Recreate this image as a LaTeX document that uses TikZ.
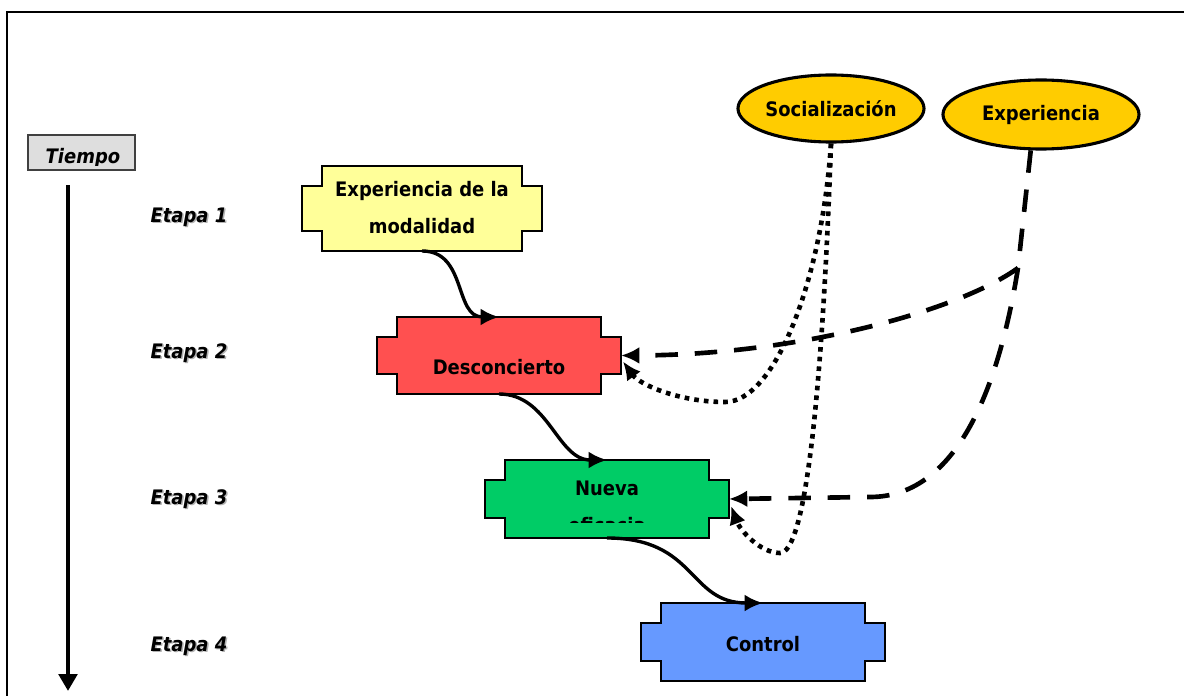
\documentclass[tikz,border=0pt]{standalone}
\usepackage{fontspec}
\setmainfont{DejaVu Sans}[FakeStretch=0.9]
\usetikzlibrary{shapes.geometric,arrows.meta,calc}
\definecolor{amarillo}{RGB}{255,255,153}
\definecolor{rojo}{RGB}{255,80,80}
\definecolor{verde}{RGB}{0,204,102}
\definecolor{azul}{RGB}{102,153,255}
\definecolor{oro}{RGB}{255,204,0}
\definecolor{gris-claro}{gray}{0.87}

\tikzset{
  borde/.style={line width=1.2pt, draw=black},
  ancla/.style={rectangle, inner sep=0pt, outer sep=0pt},
  letra/.style={font=\bfseries\fontsize{14.2}{17}\selectfont, inner sep=0pt},
  etapa/.style={font=\bfseries\itshape\fontsize{14.2}{17}\selectfont, inner sep=0pt, anchor=base},
  globo/.style={ellipse, draw, line width=2.2pt, fill=oro, inner sep=0pt,
    font=\bfseries\fontsize{14.2}{17}\selectfont},
  flecha/.style={->, line width=2.4pt},
  punteado/.style={->, line width=3.3pt, dash pattern=on 3.3pt off 3.6pt},
  rayado/.style={->, line width=3.3pt, dash pattern=on 16pt off 12pt}
}

% caja con pestanas: nombre, x, y, ancho, alto, color
\newcommand{\cajaetapa}[6]{%
  \filldraw[borde, fill=#6] (#2-#4/2,#3-#5/2) -- ++(#4,0) -- ++(0,20) -- ++(20,0)
    -- ++(0,#5-40) -- ++(-20,0) -- ++(0,20) -- ++(-#4,0) -- ++(0,-20) -- ++(-20,0)
    -- ++(0,40-#5) -- ++(20,0) -- cycle;
  \node[ancla, minimum width={(#4+40)*0.025cm}, minimum height={#5*0.025cm}] (#1) at (#2,#3) {};
}

\begin{document}
\begin{tikzpicture}[x=0.025cm, y=-0.025cm, >={Latex[length=13pt,width=12pt]}]
\useasboundingbox (0,0) rectangle (1184,696);

% marco
\draw[line width=1.1pt] (7,700) -- (7,12) -- (1190,12);

% eje del tiempo
\draw[ancla, line width=1pt, draw=black!75, fill=gris-claro] (28,135) rectangle (135,170);
\begin{scope}
  \clip (28,135) rectangle (135,165);
  \node[etapa] (tiempo) at (83,163) {Tiempo};
\end{scope}
\coordinate (t0) at (68,185);
\coordinate (t1) at (68,691);
\draw[line width=3.4pt, -{Triangle[length=12pt,width=13pt]}] (t0) -- (t1);

\foreach \n/\y in {1/222,2/358,3/504,4/651}{
  \node[etapa, text=black!30] (sombra\n) at (190.5,\y+1.5) {Etapa \n};
  \node[etapa] (etapa\n) at (189,\y) {Etapa \n};
}

% cajas
\cajaetapa{modalidad}{422}{208.5}{200}{85}{amarillo}
\node[letra, anchor=base] (m1) at (422,196) {Experiencia de la};
\node[letra, anchor=base] (m2) at (422,233) {modalidad};

\cajaetapa{desc}{499}{355.5}{204}{77}{rojo}
\node[letra, anchor=base] (d1) at (499,374) {Desconcierto};

\cajaetapa{nueva}{607}{499}{204}{78}{verde}
\node[letra, anchor=base] (n1) at (607,495) {Nueva};
\begin{scope}
  \clip (505,505) rectangle (709,522);
  \node[letra, anchor=base] (n2) at (607,532) {eficacia};
\end{scope}

\cajaetapa{control}{763}{642}{204}{78}{azul}
\node[letra, anchor=base] (c1) at (763,651) {Control};

% globos
\node[globo, minimum width=4.65cm, minimum height=1.675cm] (soc) at (831,108.5) {Socialización};
\node[globo, minimum width=4.9cm, minimum height=1.725cm] (expe) at (1041,114.5) {Experiencia};

% flechas entre etapas
\draw[flecha] (modalidad.south) .. controls +(45,0) and +(-45,0) .. (desc.north);
\draw[flecha] (desc.south) .. controls +(50,0) and +(-50,0) .. (nueva.north);
\draw[flecha] (nueva.south) .. controls +(90,0) and +(-75,0) .. (control.north);

% socializacion
\draw[punteado] (soc.south) .. controls (822,280) and (775,402) .. (725,402)
  .. controls (680,402) and (640,385) .. ($(desc.east)+(2,6)$);
\draw[punteado] (soc.south) .. controls (822,400) and (805,553) .. (780,553)
  .. controls (760,553) and (740,530) .. ($(nueva.east)+(2,7)$);

% experiencia
\coordinate (cruce) at (1018,268);
\draw[line width=3.3pt, dash pattern=on 16pt off 12pt] (expe.254) -- (cruce);
\draw[rayado] (cruce) .. controls (960,310) and (800,355) .. (desc.east);
\draw[rayado] (cruce) .. controls (1000,380) and (960,497) .. (870,497) -- (nueva.east);

\end{tikzpicture}
\end{document}
